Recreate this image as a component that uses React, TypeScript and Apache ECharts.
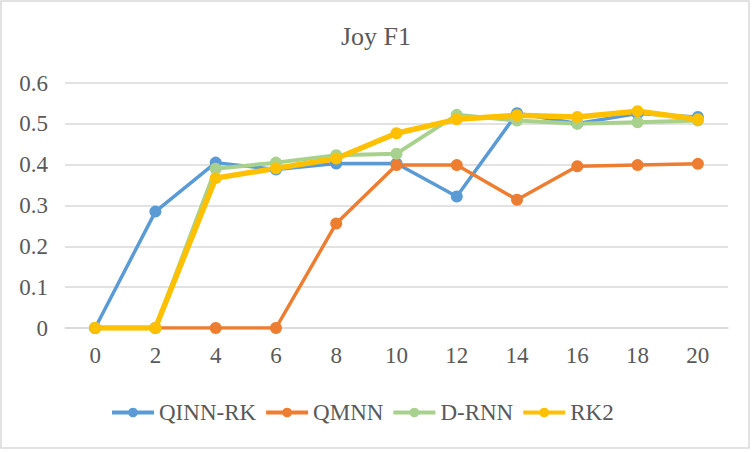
import React, { useEffect, useRef } from "react";
import * as echarts from "echarts";

const categories = ["0", "2", "4", "6", "8", "10", "12", "14", "16", "18", "20"];
const qinnRk = [0, 0.285, 0.405, 0.388, 0.403, 0.403, 0.322, 0.526, 0.501, 0.525, 0.517];
const qmnn = [0, 0, 0, 0, 0.256, 0.399, 0.399, 0.314, 0.396, 0.399, 0.402];
const dRnn = [0, 0, 0.39, 0.405, 0.423, 0.427, 0.522, 0.508, 0.5, 0.504, 0.508];
const rk2 = [0, 0, 0.367, 0.391, 0.415, 0.477, 0.511, 0.521, 0.517, 0.531, 0.511];

const FONT = "Liberation Serif";
const TEXT = "#595959";

export default function App() {
  const ref = useRef<HTMLDivElement>(null);
  useEffect(() => {
    if (!ref.current) return;
    const chart = echarts.init(ref.current, null, { renderer: "svg" });
    const mk = (name: string, data: number[], color: string, width: number, size: number) => ({
      name,
      type: "line",
      data,
      symbol: "circle",
      symbolSize: size,
      itemStyle: { color },
      lineStyle: { color, width },
      z: 2,
    });
    chart.setOption({
      animation: false,
      backgroundColor: "#ffffff",
      textStyle: { fontFamily: FONT, color: TEXT },
      title: {
        text: "Joy F1",
        left: "center",
        top: 18,
        textStyle: { fontFamily: FONT, fontSize: 26, fontWeight: "normal", color: TEXT },
      },
      legend: {
        bottom: 23,
        left: 105,
        itemWidth: 42,
        itemHeight: 12,
        itemGap: 8,
        lineStyle: { width: 4 },
        textStyle: { fontFamily: FONT, fontSize: 23, color: TEXT },
        data: ["QINN-RK", "QMNN", "D-RNN", "RK2"],
      },
      grid: { left: 65, right: 24, top: 83, bottom: 124, containLabel: false },
      xAxis: {
        type: "category",
        data: categories,
        boundaryGap: true,
        axisLine: { show: true, lineStyle: { color: "#d9d9d9", width: 1.5 } },
        axisTick: { show: false },
        axisLabel: { fontFamily: FONT, fontSize: 23, color: TEXT, margin: 16 },
      },
      yAxis: {
        type: "value",
        min: 0,
        max: 0.6,
        interval: 0.1,
        axisLine: { show: false },
        axisTick: { show: false },
        splitLine: { lineStyle: { color: "#d9d9d9", width: 1.5 } },
        axisLabel: {
          fontFamily: FONT,
          fontSize: 23,
          color: TEXT,
          margin: 17,
          formatter: (v: number) => (v === 0 ? "0" : String(Math.round(v * 10) / 10)),
        },
      },
      graphic: [
        {
          type: "rect",
          shape: { x: 1, y: 1, width: 748, height: 447 },
          style: { fill: "none", stroke: "#d9d9d9", lineWidth: 1.5 },
          silent: true,
        },
      ],
      series: [
        mk("QINN-RK", qinnRk, "#5b9bd5", 3.5, 12),
        mk("QMNN", qmnn, "#ed7d31", 3.5, 12),
        mk("D-RNN", dRnn, "#a9d18e", 4, 12),
        mk("RK2", rk2, "#ffc000", 5.5, 12),
      ],
    });
    return () => chart.dispose();
  }, []);
  return (
    <div
      ref={ref}
      style={{ position: "absolute", left: 0, top: 0, width: 752, height: 452 }}
    />
  );
}
